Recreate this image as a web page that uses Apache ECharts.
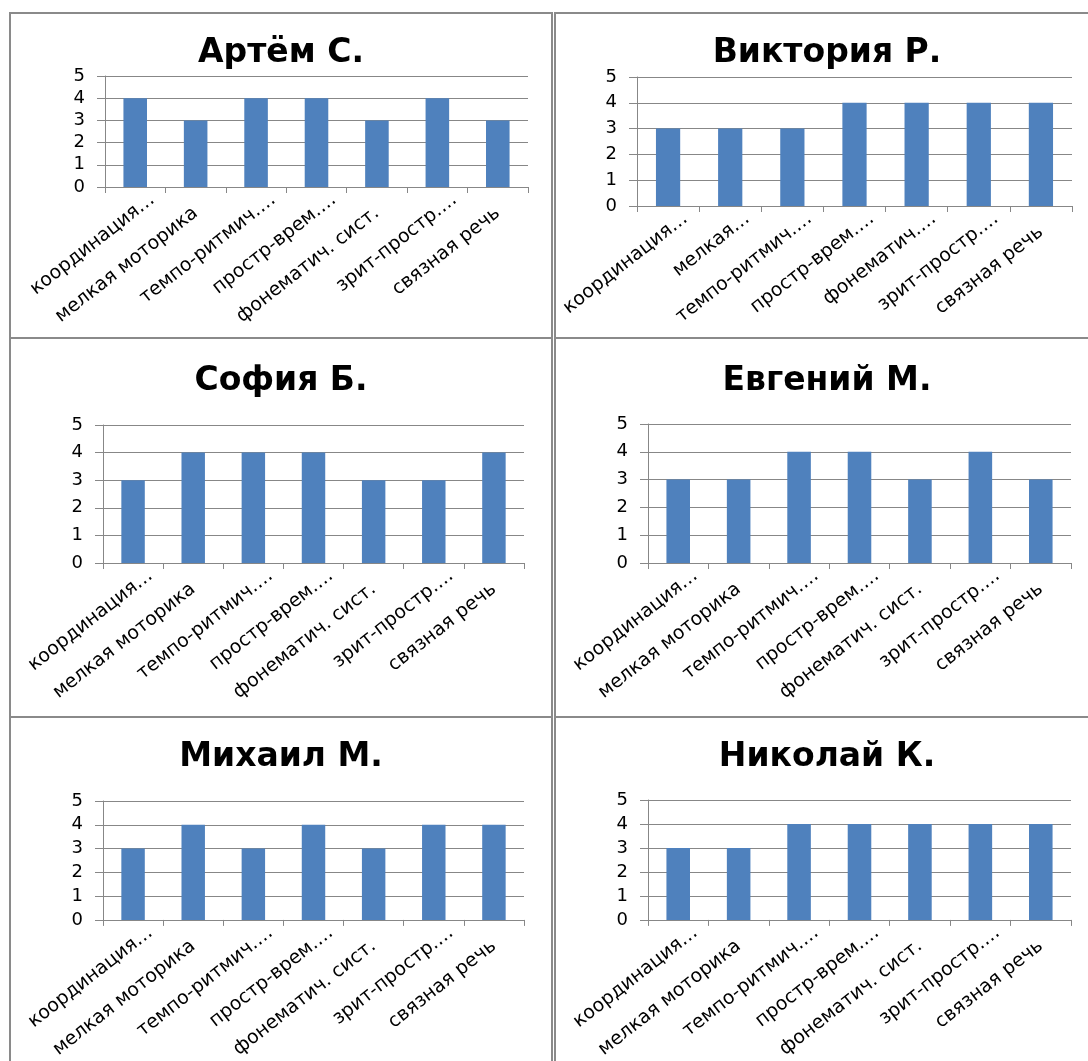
<!DOCTYPE html>
<html>
<head>
<meta charset="utf-8">
<script src="https://cdn.jsdelivr.net/npm/echarts@6/dist/echarts.min.js"></script>
<style>
html,body{margin:0;padding:0;background:#fff;}
#chart{width:1088px;height:1061px;}
</style>
</head>
<body>
<div id="chart"></div>
<script>
// ---- data ----
const categories = ['координация…', 'мелкая моторика', 'темпо-ритмич.…', 'простр-врем.…', 'фонематич. сист.', 'зрит-простр.…', 'связная речь'];
const categoriesNarrow = ['координация…', 'мелкая…', 'темпо-ритмич.…', 'простр-врем.…', 'фонематич.…', 'зрит-простр.…', 'связная речь'];
const names = ['Артём С.', 'Виктория Р.', 'София Б.', 'Евгений М.', 'Михаил М.', 'Николай К.'];
const artem    = [4, 3, 4, 4, 3, 4, 3];
const viktoria = [3, 3, 3, 4, 4, 4, 4];
const sofia    = [3, 4, 4, 4, 3, 3, 4];
const evgeniy  = [3, 3, 4, 4, 3, 4, 3];
const mikhail  = [3, 4, 3, 4, 3, 4, 4];
const nikolay  = [3, 3, 4, 4, 4, 4, 4];
const yMin = 0, yMax = 5, yStep = 1;

const seriesData = [artem, viktoria, sofia, evgeniy, mikhail, nikolay];
const catSets = [categories, categoriesNarrow, categories, categories, categories, categories];

// ---- layout ----
const grids = [
  {left: 105, top: 76, width: 423, height: 111},
  {left: 637, top: 77, width: 435, height: 129},
  {left: 103, top: 425, width: 421, height: 138},
  {left: 648, top: 424, width: 423, height: 139},
  {left: 103, top: 801, width: 421, height: 122},
  {left: 648, top: 800, width: 423, height: 123}
];
const titlePos = [
  {x: 281, y: 57}, {x: 827, y: 57},
  {x: 281, y: 385}, {x: 827, y: 385},
  {x: 281, y: 761}, {x: 827, y: 761}
];
const panels = [
  {x: 10, y: 13, w: 542, h: 325},
  {x: 555, y: 13, w: 600, h: 325},
  {x: 10, y: 338, w: 542, h: 379},
  {x: 555, y: 338, w: 600, h: 379},
  {x: 10, y: 717, w: 542, h: 400},
  {x: 555, y: 717, w: 600, h: 400}
];

const FONT = 'DejaVu Sans';
const GREY = '#878787';

const option = {
  animation: false,
  backgroundColor: '#fff',
  title: names.map((n, i) => ({
    text: n,
    left: titlePos[i].x,
    top: titlePos[i].y - 20,
    textAlign: 'center',
    padding: 0,
    textStyle: {fontFamily: FONT, fontWeight: 'bold', fontSize: 33, color: '#000'}
  })),
  graphic: panels.map(p => ({
    type: 'rect', silent: true, z: -1,
    shape: {x: p.x, y: p.y, width: p.w, height: p.h},
    style: {fill: null, stroke: '#8a8a8a', lineWidth: 2}
  })),
  grid: grids,
  xAxis: grids.map((g, i) => ({
    type: 'category',
    gridIndex: i,
    data: catSets[i],
    boundaryGap: true,
    axisLine: {show: true, lineStyle: {color: GREY, width: 1}},
    axisTick: {show: true, length: 6, alignWithLabel: false, lineStyle: {color: GREY}},
    axisLabel: {
      interval: 0, rotate: 38, margin: 24,
      fontFamily: FONT, fontSize: 19, color: '#000',
      formatter: v => v.endsWith('…') ? '{t|' + v + '}' : v,
      rich: {t: {fontFamily: FONT, fontSize: 19, color: '#000', padding: [0, -22, 0, 0]}}
    },
    splitLine: {show: false}
  })),
  yAxis: grids.map((g, i) => ({
    type: 'value',
    gridIndex: i,
    min: yMin, max: yMax, interval: yStep,
    axisLine: {show: true, lineStyle: {color: GREY, width: 1}},
    axisTick: {show: true, length: 8, lineStyle: {color: GREY}},
    axisLabel: {margin: 20, fontFamily: FONT, fontSize: 18, color: '#000'},
    splitLine: {show: true, lineStyle: {color: GREY, width: 1}}
  })),
  series: seriesData.map((d, i) => ({
    type: 'bar',
    xAxisIndex: i,
    yAxisIndex: i,
    data: d,
    barWidth: '39%',
    itemStyle: {color: '#4F81BD'}
  }))
};

const chart = echarts.init(document.getElementById('chart'), null, {renderer: 'canvas'});
chart.setOption(option);
</script>
</body>
</html>
